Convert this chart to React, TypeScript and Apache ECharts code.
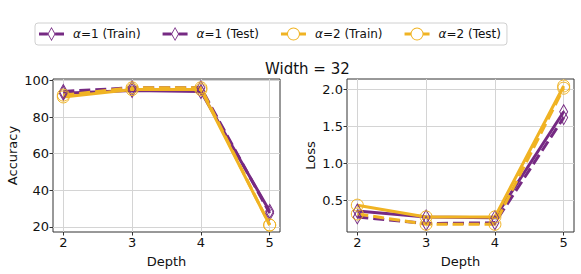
import React, { useEffect, useRef } from "react";
import * as echarts from "echarts";

const depths = [2, 3, 4, 5];
const seriesNames = ["α=1 (Train)", "α=1 (Test)", "α=2 (Train)", "α=2 (Test)"];

const accA1Train = [94, 96, 96, 27.5];
const accA1Test = [93, 94.5, 94, 28.5];
const accA2Train = [92, 96, 96, 21];
const accA2Test = [91, 95, 95, 21];

const lossA1Train = [0.27, 0.18, 0.19, 1.62];
const lossA1Test = [0.35, 0.27, 0.26, 1.7];
const lossA2Train = [0.31, 0.17, 0.17, 2.02];
const lossA2Test = [0.43, 0.27, 0.27, 2.05];

const xTicks = [2, 3, 4, 5];
const accTicks = [20, 40, 60, 80, 100];
const lossTicks = [0.5, 1.0, 1.5, 2.0];

const PURPLE = "#762a83";
const ORANGE = "#f0b323";
const FONT = "DejaVu Sans";

// legend icons: line + hollow marker (25 x 14 box)
const DIAMOND_ICON =
  "path://M0 5.5 H8.8 V8.5 H0 Z M16.2 5.5 H25 V8.5 H16.2 Z " +
  "M12.5 0 L16.5 7 L12.5 14 L8.5 7 Z M12.5 1.6 L9.5 7 L12.5 12.4 L15.5 7 Z";
const CIRCLE_ICON =
  "path://M0 5.5 H6.2 V8.5 H0 Z M18.8 5.5 H25 V8.5 H18.8 Z " +
  "M6 7 A6.5 6.5 0 1 1 19 7 A6.5 6.5 0 1 1 6 7 Z M7 7 A5.5 5.5 0 1 0 18 7 A5.5 5.5 0 1 0 7 7 Z";

export default function App() {
  const ref = useRef<HTMLDivElement>(null);
  useEffect(() => {
    if (!ref.current) return;
    const chart = echarts.init(ref.current, null, { renderer: "svg" });

    const styles = [
      { color: PURPLE, dashed: true, symbol: "diamond", size: [8, 14], icon: DIAMOND_ICON },
      { color: PURPLE, dashed: false, symbol: "diamond", size: [8, 14], icon: DIAMOND_ICON },
      { color: ORANGE, dashed: true, symbol: "circle", size: 12, icon: CIRCLE_ICON },
      { color: ORANGE, dashed: false, symbol: "circle", size: 12, icon: CIRCLE_ICON },
    ];
    const accData = [accA1Train, accA1Test, accA2Train, accA2Test];
    const lossData = [lossA1Train, lossA1Test, lossA2Train, lossA2Test];

    const mkSeries = (vals: number[][], axisIndex: number) =>
      vals.map((v, i) => ({
        type: "line",
        name: seriesNames[i],
        xAxisIndex: axisIndex,
        yAxisIndex: axisIndex,
        data: depths.map((d, j) => [d, v[j]]),
        symbol: styles[i].symbol,
        symbolSize: styles[i].size,
        lineStyle: {
          color: styles[i].color,
          width: 3,
          type: styles[i].dashed ? [11, 5] : "solid",
        },
        itemStyle: {
          color: "rgba(0,0,0,0)",
          borderColor: styles[i].color,
          borderWidth: 1,
        },
        emphasis: { disabled: true },
        clip: false,
      }));

    const axisCommon = {
      axisLine: { show: false },
      axisTick: { show: true, length: 3.5, lineStyle: { color: "#333", width: 1 } },
      splitLine: { show: true, lineStyle: { color: "#d4d4d4", width: 1 } },
      axisLabel: { color: "#111", fontFamily: FONT, fontSize: 13, margin: 4 },
      nameTextStyle: { color: "#111", fontFamily: FONT, fontSize: 13 },
    };

    const xAxis = (gi: number) => ({
      ...axisCommon,
      type: "value",
      gridIndex: gi,
      min: 1.85,
      max: 5.15,
      name: "Depth",
      nameLocation: "middle",
      nameGap: 23,
      axisTick: { ...axisCommon.axisTick, customValues: xTicks },
      axisLabel: { ...axisCommon.axisLabel, customValues: xTicks },
    });

    const option = {
      animation: false,
      backgroundColor: "#fff",
      title: {
        text: "Width = 32",
        left: 260,
        top: 56,
        textStyle: { fontFamily: FONT, fontSize: 15, fontWeight: "normal", color: "#111" },
      },
      legend: {
        left: 35,
        top: 23,
        padding: [4, 6, 4, 4],
        borderColor: "#d0d0d0",
        borderWidth: 1,
        borderRadius: 3,
        itemWidth: 25,
        itemHeight: 14,
        itemGap: 22,
        data: seriesNames.map((n, i) => ({
          name: n,
          icon: styles[i].icon,
          itemStyle: { color: styles[i].color, borderWidth: 0 },
        })),
        formatter: (name: string) => "{i|α}" + name.slice(1),
        textStyle: {
          fontFamily: FONT,
          fontSize: 12,
          color: "#111",
          padding: [0, 0, 0, 4],
          rich: { i: { fontStyle: "italic", fontFamily: FONT, fontSize: 12, color: "#111" } },
        },
        selectedMode: false,
      },
      grid: [
        { left: 53, top: 79, width: 227, height: 153, show: true, borderColor: "#333", borderWidth: 1, backgroundColor: "transparent" },
        { left: 347, top: 79, width: 227, height: 153, show: true, borderColor: "#333", borderWidth: 1, backgroundColor: "transparent" },
      ],
      xAxis: [xAxis(0), xAxis(1)],
      yAxis: [
        {
          ...axisCommon,
          type: "value",
          gridIndex: 0,
          min: 17.2,
          max: 100.8,
          name: "Accuracy",
          nameLocation: "middle",
          nameGap: 34,
          axisTick: { ...axisCommon.axisTick, customValues: accTicks },
          axisLabel: { ...axisCommon.axisLabel, customValues: accTicks },
        },
        {
          ...axisCommon,
          type: "value",
          gridIndex: 1,
          min: 0.065,
          max: 2.145,
          name: "Loss",
          nameLocation: "middle",
          nameGap: 30.5,
          axisTick: { ...axisCommon.axisTick, customValues: lossTicks },
          axisLabel: {
            ...axisCommon.axisLabel,
            customValues: lossTicks,
            formatter: (v: number) => v.toFixed(1),
          },
        },
      ],
      series: [...mkSeries(accData, 0), ...mkSeries(lossData, 1)],
    };

    chart.setOption(option as any);
    return () => chart.dispose();
  }, []);

  return (
    <div
      ref={ref}
      style={{ position: "fixed", left: 0, top: 0, width: 581, height: 274 }}
    />
  );
}
